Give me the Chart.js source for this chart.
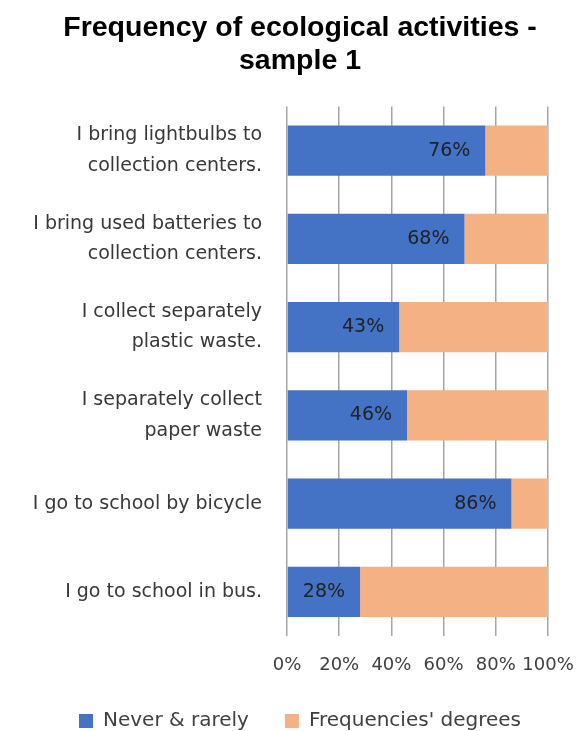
<!DOCTYPE html>
<html>
<head>
<meta charset="utf-8">
<script src="https://cdn.jsdelivr.net/npm/chart.js@4.4.1/dist/chart.umd.min.js"></script>
<style>
  html, body { margin: 0; padding: 0; background: #fff; }
  #wrap { width: 580px; height: 731px; }
</style>
</head>
<body>
<div id="wrap"><canvas id="chart"></canvas></div>
<script>
// Chart data
const categories = [
    ['I bring lightbulbs to', 'collection centers.'],
    ['I bring used batteries to', 'collection centers.'],
    ['I collect separately', 'plastic waste.'],
    ['I separately collect', 'paper waste'],
    'I go to school by bicycle',
    'I go to school in bus.'
];
const neverRarely = [76, 68, 43, 46, 86, 28];
const frequencies = [24, 32, 57, 54, 14, 72];
const seriesNames = ['Never & rarely', "Frequencies' degrees"];
const xTicks = [0, 20, 40, 60, 80, 100];

// Draw the percentage inside the end of each blue bar
const barLabels = {
    id: 'barLabels',
    afterDatasetsDraw(chart) {
        const ctx = chart.ctx;
        const meta = chart.getDatasetMeta(0);
        ctx.save();
        ctx.font = '19px "DejaVu Sans"';
        ctx.fillStyle = '#222222';
        ctx.textAlign = 'right';
        ctx.textBaseline = 'middle';
        meta.data.forEach((bar, i) => {
            ctx.fillText(neverRarely[i] + '%', bar.x - 15, bar.y);
        });
        ctx.restore();
    }
};

const ctx = document.getElementById('chart').getContext('2d');
const chart = new Chart(ctx, {
    type: 'bar',
    data: {
        labels: categories,
        datasets: [
            {
                label: seriesNames[0],
                data: neverRarely,
                backgroundColor: '#4472C4',
                barPercentage: 0.57,
                categoryPercentage: 1.0
            },
            {
                label: seriesNames[1],
                data: frequencies,
                backgroundColor: '#F4B183',
                barPercentage: 0.57,
                categoryPercentage: 1.0
            }
        ]
    },
    plugins: [barLabels],
    options: {
        indexAxis: 'y',
        responsive: true,
        maintainAspectRatio: false,
        animation: false,
        layout: {
            padding: { top: 0, right: 0, bottom: -10, left: 20 }
        },
        plugins: {
            title: {
                display: true,
                text: ['Frequency of ecological activities -', 'sample 1'],
                color: '#000000',
                font: { family: '"Liberation Sans", Arial', size: 28.5, weight: 'bold', lineHeight: 1.15 },
                padding: { top: 12, bottom: 29 }
            },
            legend: {
                position: 'bottom',
                labels: {
                    boxWidth: 14,
                    boxHeight: 14,
                    padding: 36,
                    color: '#404040',
                    font: { family: '"DejaVu Sans"', size: 20 }
                }
            },
            tooltip: { enabled: false }
        },
        scales: {
            x: {
                stacked: true,
                min: 0,
                max: 100,
                afterBuildTicks: (scale) => {
                    scale.ticks = xTicks.map(v => ({ value: v }));
                },
                afterFit: (scale) => {
                    scale.height = 39;
                    scale.paddingRight = 32;
                },
                grid: {
                    color: '#a6a6a6',
                    lineWidth: 1.5,
                    drawTicks: false
                },
                border: { display: false },
                ticks: {
                    padding: 19,
                    color: '#404040',
                    font: { family: '"DejaVu Sans"', size: 18 },
                    callback: (v) => v + '%'
                }
            },
            y: {
                stacked: true,
                afterFit: (scale) => {
                    scale.width = 267;
                },
                grid: { display: false, drawTicks: false },
                border: { display: false },
                ticks: {
                    padding: 25,
                    color: '#383838',
                    font: { family: '"DejaVu Sans"', size: 19, lineHeight: 1.6 }
                }
            }
        }
    }
});
</script>
</body>
</html>
